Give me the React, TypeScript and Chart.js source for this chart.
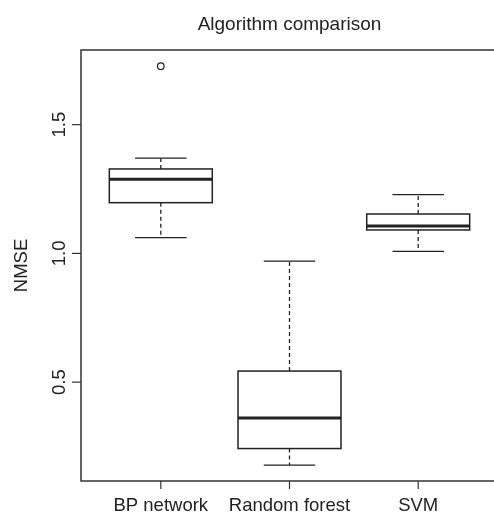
import React, { useEffect, useRef } from "react";
import { Chart, registerables } from "chart.js";
Chart.register(...registerables);

const categories = ["BP network", "Random forest", "SVM"];
const whiskerLow = [1.061, 0.178, 1.008];
const q1 = [1.197, 0.242, 1.091];
const median = [1.288, 0.361, 1.106];
const q3 = [1.328, 0.543, 1.153];
const whiskerHigh = [1.37, 0.97, 1.228];
const outlierX = [1];
const outlierY = [1.727];
const yTicks = [0.5, 1.0, 1.5];
const yTickLabels = ["0.5", "1.0", "1.5"];
const titleText = "Algorithm comparison";
const yTitle = "NMSE";

const FONT = '"Liberation Sans", Arial, Helvetica, sans-serif';
const INK = "#222";

const boxPlugin = {
  id: "rbox",
  beforeDatasetsDraw(chart: any) {
    const ctx = chart.ctx;
    const xs = chart.scales.x;
    const ys = chart.scales.y;
    ctx.save();
    ctx.strokeStyle = INK;
    for (let i = 0; i < categories.length; i++) {
      const c = i + 1;
      const xc = xs.getPixelForValue(c);
      const xl = xs.getPixelForValue(c - 0.4);
      const xr = xs.getPixelForValue(c + 0.4);
      const sl = xs.getPixelForValue(c - 0.2);
      const sr = xs.getPixelForValue(c + 0.2);
      const yLo = ys.getPixelForValue(whiskerLow[i]);
      const yQ1 = ys.getPixelForValue(q1[i]);
      const yMed = ys.getPixelForValue(median[i]);
      const yQ3 = ys.getPixelForValue(q3[i]);
      const yHi = ys.getPixelForValue(whiskerHigh[i]);
      // whiskers dashed
      ctx.lineWidth = 1.3;
      ctx.setLineDash([4, 3]);
      ctx.beginPath();
      ctx.moveTo(xc, yQ3);
      ctx.lineTo(xc, yHi);
      ctx.moveTo(xc, yQ1);
      ctx.lineTo(xc, yLo);
      ctx.stroke();
      ctx.setLineDash([]);
      // staples
      ctx.beginPath();
      ctx.moveTo(sl, yHi);
      ctx.lineTo(sr, yHi);
      ctx.moveTo(sl, yLo);
      ctx.lineTo(sr, yLo);
      ctx.stroke();
      // box
      ctx.lineWidth = 1.5;
      ctx.strokeRect(xl, yQ3, xr - xl, yQ1 - yQ3);
      // median
      ctx.lineWidth = 3;
      ctx.beginPath();
      ctx.moveTo(xl, yMed);
      ctx.lineTo(xr, yMed);
      ctx.stroke();
    }
    ctx.restore();
  },
  afterDraw(chart: any) {
    const ctx = chart.ctx;
    const xs = chart.scales.x;
    const ys = chart.scales.y;
    const { left, right, top, bottom } = chart.chartArea;
    ctx.save();
    ctx.strokeStyle = "#333";
    ctx.lineWidth = 1.5;
    ctx.strokeRect(left, top, right - left, bottom - top);
    ctx.fillStyle = INK;
    ctx.font = `18.5px ${FONT}`;
    // y ticks
    ctx.lineWidth = 1.2;
    for (let i = 0; i < yTicks.length; i++) {
      const y = ys.getPixelForValue(yTicks[i]);
      ctx.beginPath();
      ctx.moveTo(left - 9, y);
      ctx.lineTo(left, y);
      ctx.stroke();
      ctx.save();
      ctx.translate(left - 16.5, y);
      ctx.rotate(-Math.PI / 2);
      ctx.textAlign = "center";
      ctx.textBaseline = "alphabetic";
      ctx.fillText(yTickLabels[i], 0, 0);
      ctx.restore();
    }
    // x ticks
    for (let i = 0; i < categories.length; i++) {
      const x = xs.getPixelForValue(i + 1);
      ctx.beginPath();
      ctx.moveTo(x, bottom);
      ctx.lineTo(x, bottom + 8);
      ctx.stroke();
      ctx.textAlign = "center";
      ctx.textBaseline = "alphabetic";
      ctx.fillText(categories[i], x, 511);
    }
    // y title
    ctx.save();
    ctx.translate(27, (top + bottom) / 2);
    ctx.rotate(-Math.PI / 2);
    ctx.textAlign = "center";
    ctx.textBaseline = "alphabetic";
    ctx.fillText(yTitle, 0, 0);
    ctx.restore();
    // title
    ctx.font = `19px ${FONT}`;
    ctx.textAlign = "center";
    ctx.textBaseline = "alphabetic";
    ctx.fillText(titleText, (left + right) / 2, 30);
    ctx.restore();
  },
};

export default function App() {
  const ref = useRef<HTMLCanvasElement | null>(null);
  useEffect(() => {
    if (!ref.current) return;
    const chart = new Chart(ref.current, {
      type: "scatter",
      data: {
        datasets: [
          {
            label: "outliers",
            data: outlierX.map((x, i) => ({ x, y: outlierY[i] })),
            pointRadius: 3.3,
            pointBorderWidth: 1.2,
            borderColor: INK,
            backgroundColor: "rgba(0,0,0,0)",
          },
        ],
      },
      options: {
        animation: false,
        responsive: false,
        devicePixelRatio: 1,
        layout: { padding: { left: 81, top: 50, right: 12, bottom: 33 } },
        plugins: { legend: { display: false }, tooltip: { enabled: false } },
        scales: {
          x: { type: "linear", min: 0.38, max: 3.62, display: false },
          y: { type: "linear", min: 0.116, max: 1.79, display: false },
        },
      },
      plugins: [boxPlugin],
    } as any);
    return () => chart.destroy();
  }, []);
  return (
    <div
      style={{
        position: "fixed",
        left: 0,
        top: 0,
        width: 494,
        height: 514,
        overflow: "hidden",
        background: "#fff",
      }}
    >
      <canvas ref={ref} width={510} height={514} style={{ display: "block" }} />
    </div>
  );
}
